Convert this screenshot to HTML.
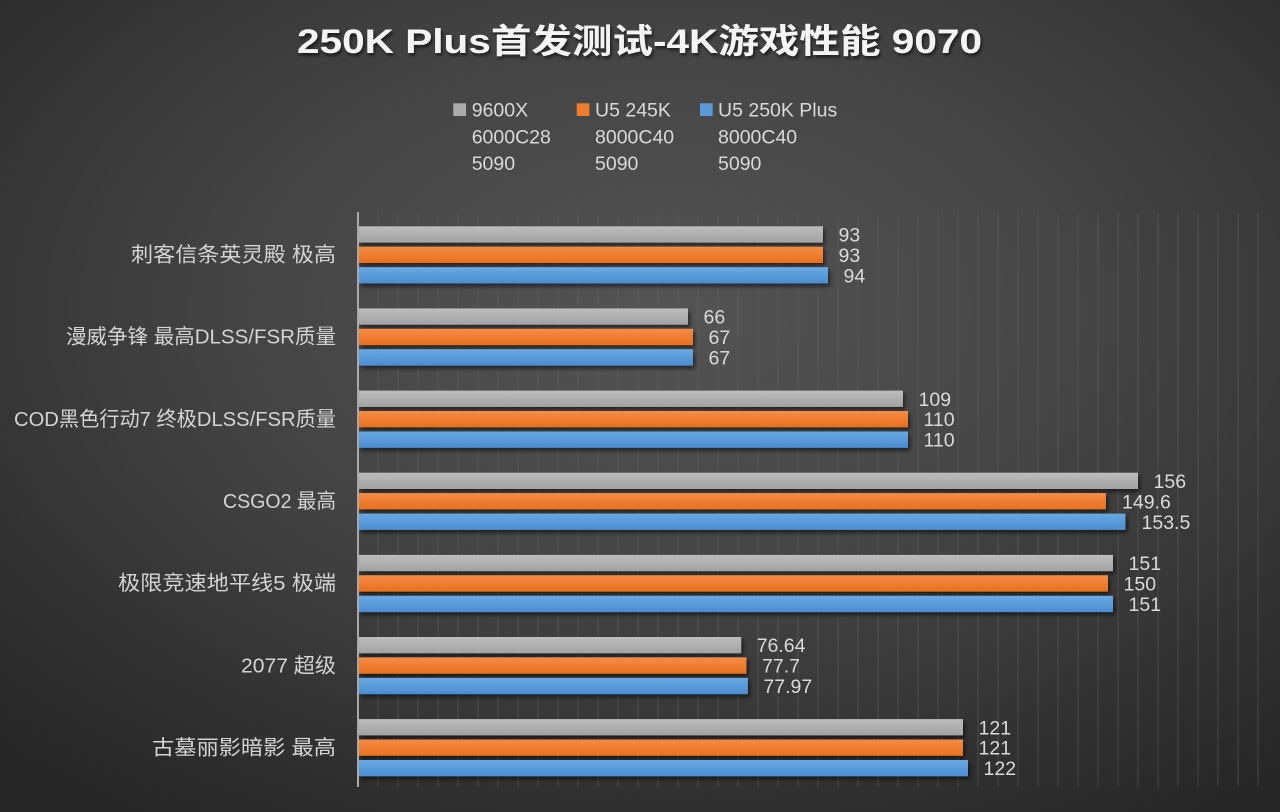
<!DOCTYPE html>
<html>
<head>
<meta charset="utf-8">
<style>
  html,body{margin:0;padding:0;background:#3a3a3a;}
  svg{display:block;}
</style>
</head>
<body>
<svg width="1280" height="812" viewBox="0 0 1280 812" xmlns="http://www.w3.org/2000/svg">
  <defs>
    <radialGradient id="bg" cx="52%" cy="38%" r="75%" fx="52%" fy="38%">
      <stop offset="0" stop-color="#545454"/>
      <stop offset="0.45" stop-color="#444444"/>
      <stop offset="1" stop-color="#262626"/>
    </radialGradient>
    <linearGradient id="gGray" x1="0" y1="0" x2="0" y2="1">
      <stop offset="0" stop-color="#bdbdbd"/>
      <stop offset="1" stop-color="#a2a2a2"/>
    </linearGradient>
    <linearGradient id="gOrange" x1="0" y1="0" x2="0" y2="1">
      <stop offset="0" stop-color="#f68c45"/>
      <stop offset="1" stop-color="#e8701e"/>
    </linearGradient>
    <linearGradient id="gBlue" x1="0" y1="0" x2="0" y2="1">
      <stop offset="0" stop-color="#6aa9e2"/>
      <stop offset="1" stop-color="#4a8dd1"/>
    </linearGradient>
    <filter id="sh" x="-5%" y="-40%" width="110%" height="200%">
      <feGaussianBlur in="SourceAlpha" stdDeviation="2"/>
      <feOffset dx="2" dy="3" result="o"/>
      <feComponentTransfer><feFuncA type="linear" slope="0.55"/></feComponentTransfer>
      <feMerge><feMergeNode/><feMergeNode in="SourceGraphic"/></feMerge>
    </filter>
    <filter id="tsh" x="-5%" y="-30%" width="110%" height="160%">
      <feGaussianBlur in="SourceAlpha" stdDeviation="1.5"/>
      <feOffset dx="1.5" dy="2.5" result="o"/>
      <feComponentTransfer><feFuncA type="linear" slope="0.6"/></feComponentTransfer>
      <feMerge><feMergeNode/><feMergeNode in="SourceGraphic"/></feMerge>
    </filter>
  </defs>

  <rect x="0" y="0" width="1280" height="812" fill="url(#bg)"/>

  <!-- Title -->
  <text x="297" y="53" textLength="685" lengthAdjust="spacingAndGlyphs" filter="url(#tsh)"
        font-family="'Liberation Sans','Noto Sans CJK SC',sans-serif" font-weight="bold" font-size="34" fill="#f4f4f4">250K Plus首发测试-4K游戏性能 9070</text>

  <!-- Legend -->
  <g font-family="'Liberation Sans','Noto Sans CJK SC',sans-serif" font-size="19.5" fill="#d9d9d9">
    <rect x="453.3" y="103.3" width="12.7" height="12.7" fill="#ababab"/>
    <rect x="576.7" y="103.3" width="12.7" height="12.7" fill="#ef7b2c"/>
    <rect x="700" y="103.3" width="12.7" height="12.7" fill="#5a9ad9"/>
    <text x="471.7" y="116.7">9600X</text>
    <text x="471.7" y="143.3">6000C28</text>
    <text x="471.7" y="170">5090</text>
    <text x="595" y="116.7">U5 245K</text>
    <text x="595" y="143.3">8000C40</text>
    <text x="595" y="170">5090</text>
    <text x="718" y="116.7">U5 250K Plus</text>
    <text x="718" y="143.3">8000C40</text>
    <text x="718" y="170">5090</text>
  </g>

  <!-- Gridlines -->
  <g stroke="#6a6a6a" stroke-opacity="0.3" stroke-width="1.5">
    <line x1="378" y1="213" x2="378" y2="787"/><line x1="398" y1="213" x2="398" y2="787"/><line x1="418" y1="213" x2="418" y2="787"/><line x1="438" y1="213" x2="438" y2="787"/><line x1="458" y1="213" x2="458" y2="787"/><line x1="478" y1="213" x2="478" y2="787"/><line x1="498" y1="213" x2="498" y2="787"/><line x1="518" y1="213" x2="518" y2="787"/><line x1="538" y1="213" x2="538" y2="787"/><line x1="558" y1="213" x2="558" y2="787"/>
    <line x1="578" y1="213" x2="578" y2="787"/><line x1="598" y1="213" x2="598" y2="787"/><line x1="618" y1="213" x2="618" y2="787"/><line x1="638" y1="213" x2="638" y2="787"/><line x1="658" y1="213" x2="658" y2="787"/><line x1="678" y1="213" x2="678" y2="787"/><line x1="698" y1="213" x2="698" y2="787"/><line x1="718" y1="213" x2="718" y2="787"/><line x1="738" y1="213" x2="738" y2="787"/><line x1="758" y1="213" x2="758" y2="787"/>
    <line x1="778" y1="213" x2="778" y2="787"/><line x1="798" y1="213" x2="798" y2="787"/><line x1="818" y1="213" x2="818" y2="787"/><line x1="838" y1="213" x2="838" y2="787"/><line x1="858" y1="213" x2="858" y2="787"/><line x1="878" y1="213" x2="878" y2="787"/><line x1="898" y1="213" x2="898" y2="787"/><line x1="918" y1="213" x2="918" y2="787"/><line x1="938" y1="213" x2="938" y2="787"/><line x1="958" y1="213" x2="958" y2="787"/>
    <line x1="978" y1="213" x2="978" y2="787"/><line x1="998" y1="213" x2="998" y2="787"/><line x1="1018" y1="213" x2="1018" y2="787"/><line x1="1038" y1="213" x2="1038" y2="787"/><line x1="1058" y1="213" x2="1058" y2="787"/><line x1="1078" y1="213" x2="1078" y2="787"/><line x1="1098" y1="213" x2="1098" y2="787"/><line x1="1118" y1="213" x2="1118" y2="787"/><line x1="1138" y1="213" x2="1138" y2="787"/><line x1="1158" y1="213" x2="1158" y2="787"/>
    <line x1="1178" y1="213" x2="1178" y2="787"/><line x1="1198" y1="213" x2="1198" y2="787"/><line x1="1218" y1="213" x2="1218" y2="787"/><line x1="1238" y1="213" x2="1238" y2="787"/><line x1="1258" y1="213" x2="1258" y2="787"/>
  </g>

  <!-- Bars -->
  <g filter="url(#sh)">
    <rect x="359" y="226.3" width="464" height="16.3" fill="url(#gGray)"/>
    <rect x="359" y="246.7" width="464" height="16.3" fill="url(#gOrange)"/>
    <rect x="359" y="267.2" width="469" height="16.3" fill="url(#gBlue)"/>

    <rect x="359" y="308.4" width="329" height="16.3" fill="url(#gGray)"/>
    <rect x="359" y="328.8" width="334" height="16.3" fill="url(#gOrange)"/>
    <rect x="359" y="349.3" width="334" height="16.3" fill="url(#gBlue)"/>

    <rect x="359" y="390.6" width="544" height="16.3" fill="url(#gGray)"/>
    <rect x="359" y="411.0" width="549" height="16.3" fill="url(#gOrange)"/>
    <rect x="359" y="431.5" width="549" height="16.3" fill="url(#gBlue)"/>

    <rect x="359" y="472.7" width="779" height="16.3" fill="url(#gGray)"/>
    <rect x="359" y="493.1" width="747" height="16.3" fill="url(#gOrange)"/>
    <rect x="359" y="513.6" width="766.5" height="16.3" fill="url(#gBlue)"/>

    <rect x="359" y="554.9" width="754" height="16.3" fill="url(#gGray)"/>
    <rect x="359" y="575.3" width="749" height="16.3" fill="url(#gOrange)"/>
    <rect x="359" y="595.8" width="754" height="16.3" fill="url(#gBlue)"/>

    <rect x="359" y="637.0" width="382.2" height="16.3" fill="url(#gGray)"/>
    <rect x="359" y="657.4" width="387.5" height="16.3" fill="url(#gOrange)"/>
    <rect x="359" y="677.9" width="388.9" height="16.3" fill="url(#gBlue)"/>

    <rect x="359" y="719.1" width="604" height="16.3" fill="url(#gGray)"/>
    <rect x="359" y="739.5" width="604" height="16.3" fill="url(#gOrange)"/>
    <rect x="359" y="760.0" width="609" height="16.3" fill="url(#gBlue)"/>
  </g>

  <!-- Axis -->
  <line x1="358" y1="212" x2="358" y2="787" stroke="#a8a8a8" stroke-width="2"/>

  <!-- Value labels -->
  <g font-family="'Liberation Sans',sans-serif" font-size="19.5" fill="#dadada">
    <text x="838.5" y="241.5">93</text>
    <text x="838.5" y="261.9">93</text>
    <text x="843.5" y="282.4">94</text>

    <text x="703.5" y="323.6">66</text>
    <text x="708.5" y="344.0">67</text>
    <text x="708.5" y="364.5">67</text>

    <text x="918.5" y="405.8">109</text>
    <text x="923.5" y="426.2">110</text>
    <text x="923.5" y="446.7">110</text>

    <text x="1153.5" y="487.9">156</text>
    <text x="1122" y="508.3">149.6</text>
    <text x="1141.5" y="528.8">153.5</text>

    <text x="1128.5" y="570.1">151</text>
    <text x="1123.5" y="590.5">150</text>
    <text x="1128.5" y="611.0">151</text>

    <text x="756.7" y="652.2">76.64</text>
    <text x="762" y="672.6">77.7</text>
    <text x="763.4" y="693.1">77.97</text>

    <text x="978.5" y="734.3">121</text>
    <text x="978.5" y="754.7">121</text>
    <text x="983.5" y="775.2">122</text>
  </g>

  <!-- Category labels -->
  <g font-family="'Liberation Sans','Noto Sans CJK SC',sans-serif" font-size="20.5" fill="#d4d4d4" text-anchor="end">
    <text x="336" y="261.6" textLength="205" lengthAdjust="spacingAndGlyphs">刺客信条英灵殿 极高</text>
    <text x="336" y="343.7" textLength="270" lengthAdjust="spacingAndGlyphs">漫威争锋 最高DLSS/FSR质量</text>
    <text x="336" y="425.9" textLength="322" lengthAdjust="spacingAndGlyphs">COD黑色行动7 终极DLSS/FSR质量</text>
    <text x="336" y="508.0" textLength="113" lengthAdjust="spacingAndGlyphs">CSGO2 最高</text>
    <text x="336" y="590.1" textLength="218" lengthAdjust="spacingAndGlyphs">极限竞速地平线5 极端</text>
    <text x="336" y="672.3" textLength="95" lengthAdjust="spacingAndGlyphs">2077 超级</text>
    <text x="336" y="754.4" textLength="184" lengthAdjust="spacingAndGlyphs">古墓丽影暗影 最高</text>
  </g>
</svg>
</body>
</html>
